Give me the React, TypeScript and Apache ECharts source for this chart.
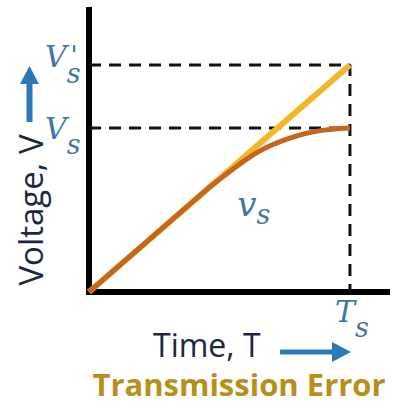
import React, { useEffect, useRef } from "react";
import * as echarts from "echarts";

// Sampling instant and the two end voltages
const TS = 10;
const VS_PRIME = 10;
const VS = 7.22;

// Axis extents (the axes run a little past Ts and V's)
const X_MAX = 11.42;
const Y_MAX = 12.42;

// Ideal ramp: straight line to V's at Ts
const IDEAL_T = [0, TS];
const IDEAL_V = [0, VS_PRIME];

// Actual voltage vs(t): follows the ramp, then rolls off to Vs at Ts
const ACTUAL_T = [0, 4.5, 5, 5.5, 6, 6.5, 7, 7.5, 8, 8.5, 9, 9.5, 10];
const ACTUAL_V = [0, 4.5, 4.96, 5.4, 5.82, 6.18, 6.47, 6.7, 6.89, 7.03, 7.13, 7.19, 7.22];

// Reference levels marked on the voltage axis
const LEVEL_VALUES = [VS_PRIME, VS];
const LEVEL_PRIMED = [true, false];

const TITLE = "Transmission Error";
const X_NAME = "Time, T";
const Y_NAME = "Voltage, V";

const MATH_BLUE = "#4474a6";
const ARROW_BLUE = "#2b78b8";
const NAVY = "#1b2743";
const MATH_FONT = "DejaVu Serif";
const SANS = '"Open Sans"';

function txt(x: number, y: number, text: string, font: string, fill: string, align = "left", extra: any = {}) {
  return {
    type: "text",
    x,
    y,
    ...extra,
    style: {
      text,
      font,
      fill,
      align,
      verticalAlign: "middle",
      textAlign: align,
      textVerticalAlign: "middle",
    },
  };
}

function mathToken(size: number, drop: number) {
  return {
    fontFamily: MATH_FONT,
    fontStyle: "italic",
    fontSize: size,
    lineHeight: size,
    fill: MATH_BLUE,
    color: MATH_BLUE,
    verticalAlign: "top",
    padding: [drop, 0, 0, 0],
  };
}

// Italic symbol with a dropped subscript (and optional prime), one rich text;
// (x, y) is the top-left of the symbol's line box
function mathLabel(x: number, y: number, base: string, sub: string, primed: boolean, size: number, subSize: number, drop: number) {
  return {
    type: "text",
    x,
    y,
    style: {
      text: `{b|${base}}{s|${sub}}` + (primed ? "{p|'}" : ""),
      align: "left",
      verticalAlign: "top",
      textAlign: "left",
      textVerticalAlign: "top",
      rich: {
        b: mathToken(size, 0),
        s: mathToken(subSize, drop),
        p: { ...mathToken(26, 0), padding: [0, 0, 0, -10] },
      },
    },
  };
}

export default function App() {
  const ref = useRef<HTMLDivElement>(null);

  useEffect(() => {
    if (!ref.current) return;
    const chart = echarts.init(ref.current, null, { renderer: "svg" });
    const pair = (xs: number[], ys: number[]) => xs.map((x, i) => [x, ys[i]]);

    chart.setOption({
      animation: false,
      backgroundColor: "#ffffff",
      grid: { left: 89, right: 15, top: 10, bottom: 113 },
      xAxis: {
        type: "value",
        min: 0,
        max: X_MAX,
        axisLine: { lineStyle: { color: "#000", width: 6, cap: "square" } },
        axisTick: { show: false },
        axisLabel: { show: false },
        splitLine: { show: false },
      },
      yAxis: {
        type: "value",
        min: 0,
        max: Y_MAX,
        axisLine: { lineStyle: { color: "#000", width: 6, cap: "square" } },
        axisTick: { show: false },
        axisLabel: { show: false },
        splitLine: { show: false },
      },
      series: [
        {
          type: "line",
          data: [[0, VS_PRIME], [TS, VS_PRIME], [TS, 0]],
          symbol: "none",
          z: 1,
          lineStyle: { color: "#111", width: 3, type: [12, 8] },
        },
        {
          type: "line",
          data: [[0, VS], [TS, VS]],
          symbol: "none",
          z: 1,
          lineStyle: { color: "#111", width: 3, type: [12, 8] },
        },
        {
          type: "line",
          data: pair(IDEAL_T, IDEAL_V),
          symbol: "none",
          z: 3,
          lineStyle: { color: "#f1b82a", width: 6 },
        },
        {
          type: "line",
          data: pair(ACTUAL_T, ACTUAL_V),
          symbol: "none",
          smooth: 0.3,
          z: 4,
          lineStyle: { color: "#c4661d", width: 5 },
        },
      ],
    });

    const px = (p: number[]) => chart.convertToPixel({ gridIndex: 0 }, p) as number[];
    const origin = px([0, 0]);
    const tsPt = px([TS, 0]);
    const vsAnchor = px([6.1, 3.85]);

    const graphic: any[] = [];

    LEVEL_VALUES.forEach((v, i) => {
      const p = px([0, v]);
      const dy = LEVEL_PRIMED[i] ? -23 : -15;
      graphic.push(mathLabel(p[0] - 44, p[1] + dy, "V", "s", LEVEL_PRIMED[i], 30, 27, 18));
    });

    // Ts under the time axis
    graphic.push(mathLabel(tsPt[0] - 15, tsPt[1] + 4, "T", "s", false, 30, 27, 18));
    // vs next to the actual curve
    graphic.push(mathLabel(vsAnchor[0] - 11, vsAnchor[1] - 18, "v", "s", false, 34, 27, 14));

    // Voltage axis name with its up arrow
    graphic.push(txt(30, 210, Y_NAME, `33px ${SANS}`, NAVY, "center", { rotation: Math.PI / 2 }));
    graphic.push({ type: "rect", shape: { x: 26.5, y: 82, width: 6, height: 40 }, style: { fill: ARROW_BLUE } });
    graphic.push({ type: "polygon", shape: { points: [[20, 84], [29.5, 66], [39, 84]] }, style: { fill: ARROW_BLUE } });

    // Time axis name with its right arrow
    graphic.push(txt(origin[0] + 64, 344, X_NAME, `32px ${SANS}`, NAVY, "left"));
    graphic.push({ type: "rect", shape: { x: 280, y: 349.5, width: 55, height: 5 }, style: { fill: ARROW_BLUE } });
    graphic.push({ type: "polygon", shape: { points: [[332, 342], [tsPt[0] + 1, 352], [332, 362]] }, style: { fill: ARROW_BLUE } });

    // Caption
    graphic.push(txt(239, 384, TITLE, `bold 31px ${SANS}`, "#b78f1c", "center"));

    chart.setOption({ graphic });

    return () => chart.dispose();
  }, []);

  return (
    <div
      ref={ref}
      style={{ position: "absolute", left: 0, top: 0, width: 402, height: 405, background: "#fff" }}
    />
  );
}
